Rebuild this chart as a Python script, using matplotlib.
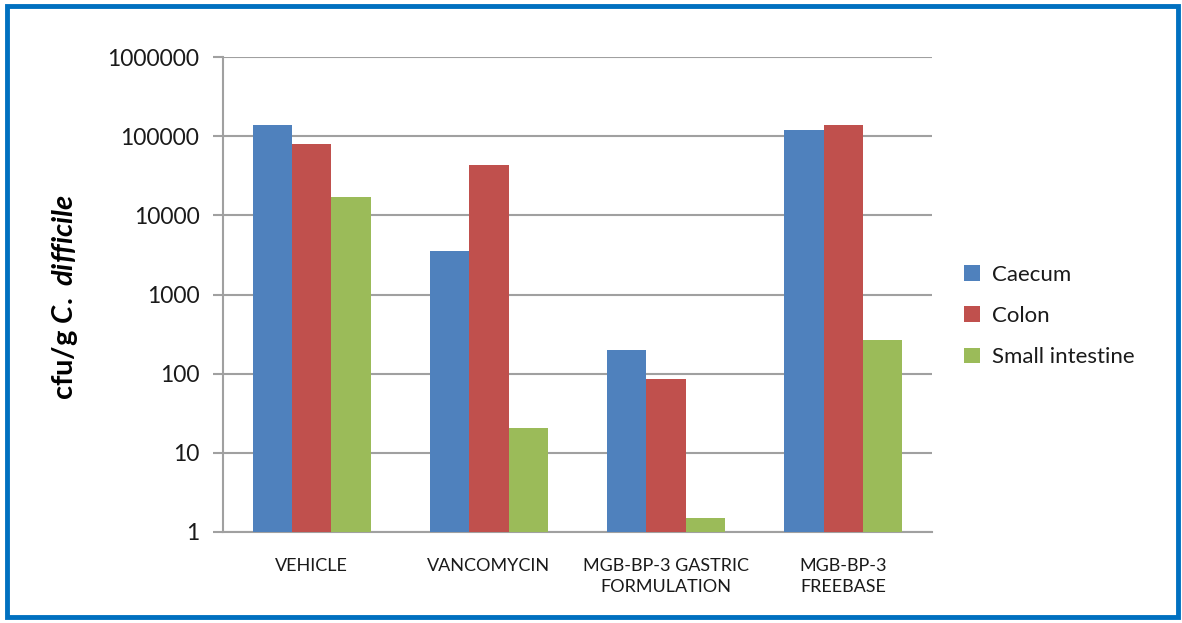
import matplotlib
matplotlib.use("Agg")
import matplotlib.pyplot as plt
import numpy as np
from matplotlib.patches import Rectangle, Patch

categories = ["VEHICLE", "VANCOMYCIN", "MGB-BP-3 GASTRIC\nFORMULATION", "MGB-BP-3\nFREEBASE"]
series_names = ["Caecum", "Colon", "Small intestine"]
caecum = [139000, 3500, 197, 120000]
colon = [79800, 43400, 86, 139000]
small_intestine = [17000, 20.7, 1.5, 269]
yticks = [1, 10, 100, 1000, 10000, 100000, 1000000]
ytick_labels = ["1", "10", "100", "1000", "10000", "100000", "1000000"]
colors = ["#4F81BD", "#C0504D", "#9BBB59"]

plt.rcParams['font.family'] = ['Lato', 'DejaVu Sans']
plt.rcParams['mathtext.fontset'] = 'custom'
plt.rcParams['mathtext.rm'] = 'Lato:bold'
plt.rcParams['mathtext.it'] = 'Lato:italic:bold'
plt.rcParams['mathtext.bf'] = 'Lato:bold'

fig = plt.figure(figsize=(11.82, 6.23), dpi=100)
ax = fig.add_axes([223/1182, 1 - 532/623, (932-223)/1182, (532-57)/623])

x = np.arange(len(categories))
w = 0.222
grid_c = "#A0A0A0"
for i, (vals, name) in enumerate(zip([caecum, colon, small_intestine], series_names)):
    ax.bar(x + (i - 1) * w, vals, width=w, color=colors[i], label=name, zorder=3)

ax.set_yscale('log')
ax.set_ylim(1, 1000000)
ax.set_xlim(-0.5, len(categories) - 0.5)
ax.set_yticks(yticks)
ax.set_yticklabels(ytick_labels, fontsize=16.5, color="#1a1a1a")
ax.yaxis.set_minor_locator(matplotlib.ticker.NullLocator())
ax.set_xticks(x)
ax.set_xticklabels(categories, fontsize=13, color="#1a1a1a", linespacing=1.35)
ax.tick_params(axis='x', length=0, pad=19)
ax.tick_params(axis='y', length=7, width=1.5, color=grid_c, pad=10)
ax.grid(axis='y', color=grid_c, linewidth=1.5, zorder=0)
for s in ['top', 'right']:
    ax.spines[s].set_visible(False)
for s in ['left', 'bottom']:
    ax.spines[s].set_color(grid_c)
    ax.spines[s].set_linewidth(1.5)

fig.text(65/1182, 1 - 297/623, r'cfu/g $\mathit{C.\ difficile}$', rotation=90,
         ha='center', va='center', fontsize=21, fontweight='bold')

handles = [Patch(facecolor=c, label=n) for c, n in zip(colors, series_names)]
leg = fig.legend(handles=handles, loc='center left', bbox_to_anchor=(944/1182, 1 - 316/623),
                 frameon=False, fontsize=16, handlelength=0.7, handleheight=0.7,
                 labelspacing=0.95, handletextpad=0.55)
for t in leg.get_texts():
    t.set_color("#1a1a1a")

fig.patches.append(Rectangle((6.5/1182, 6.5/623), (1178-6.5)/1182, (617-6.5)/623,
                             transform=fig.transFigure, fill=False, edgecolor="#0070C0",
                             linewidth=3.5))

fig.savefig("out.png", dpi=100, facecolor="white")
